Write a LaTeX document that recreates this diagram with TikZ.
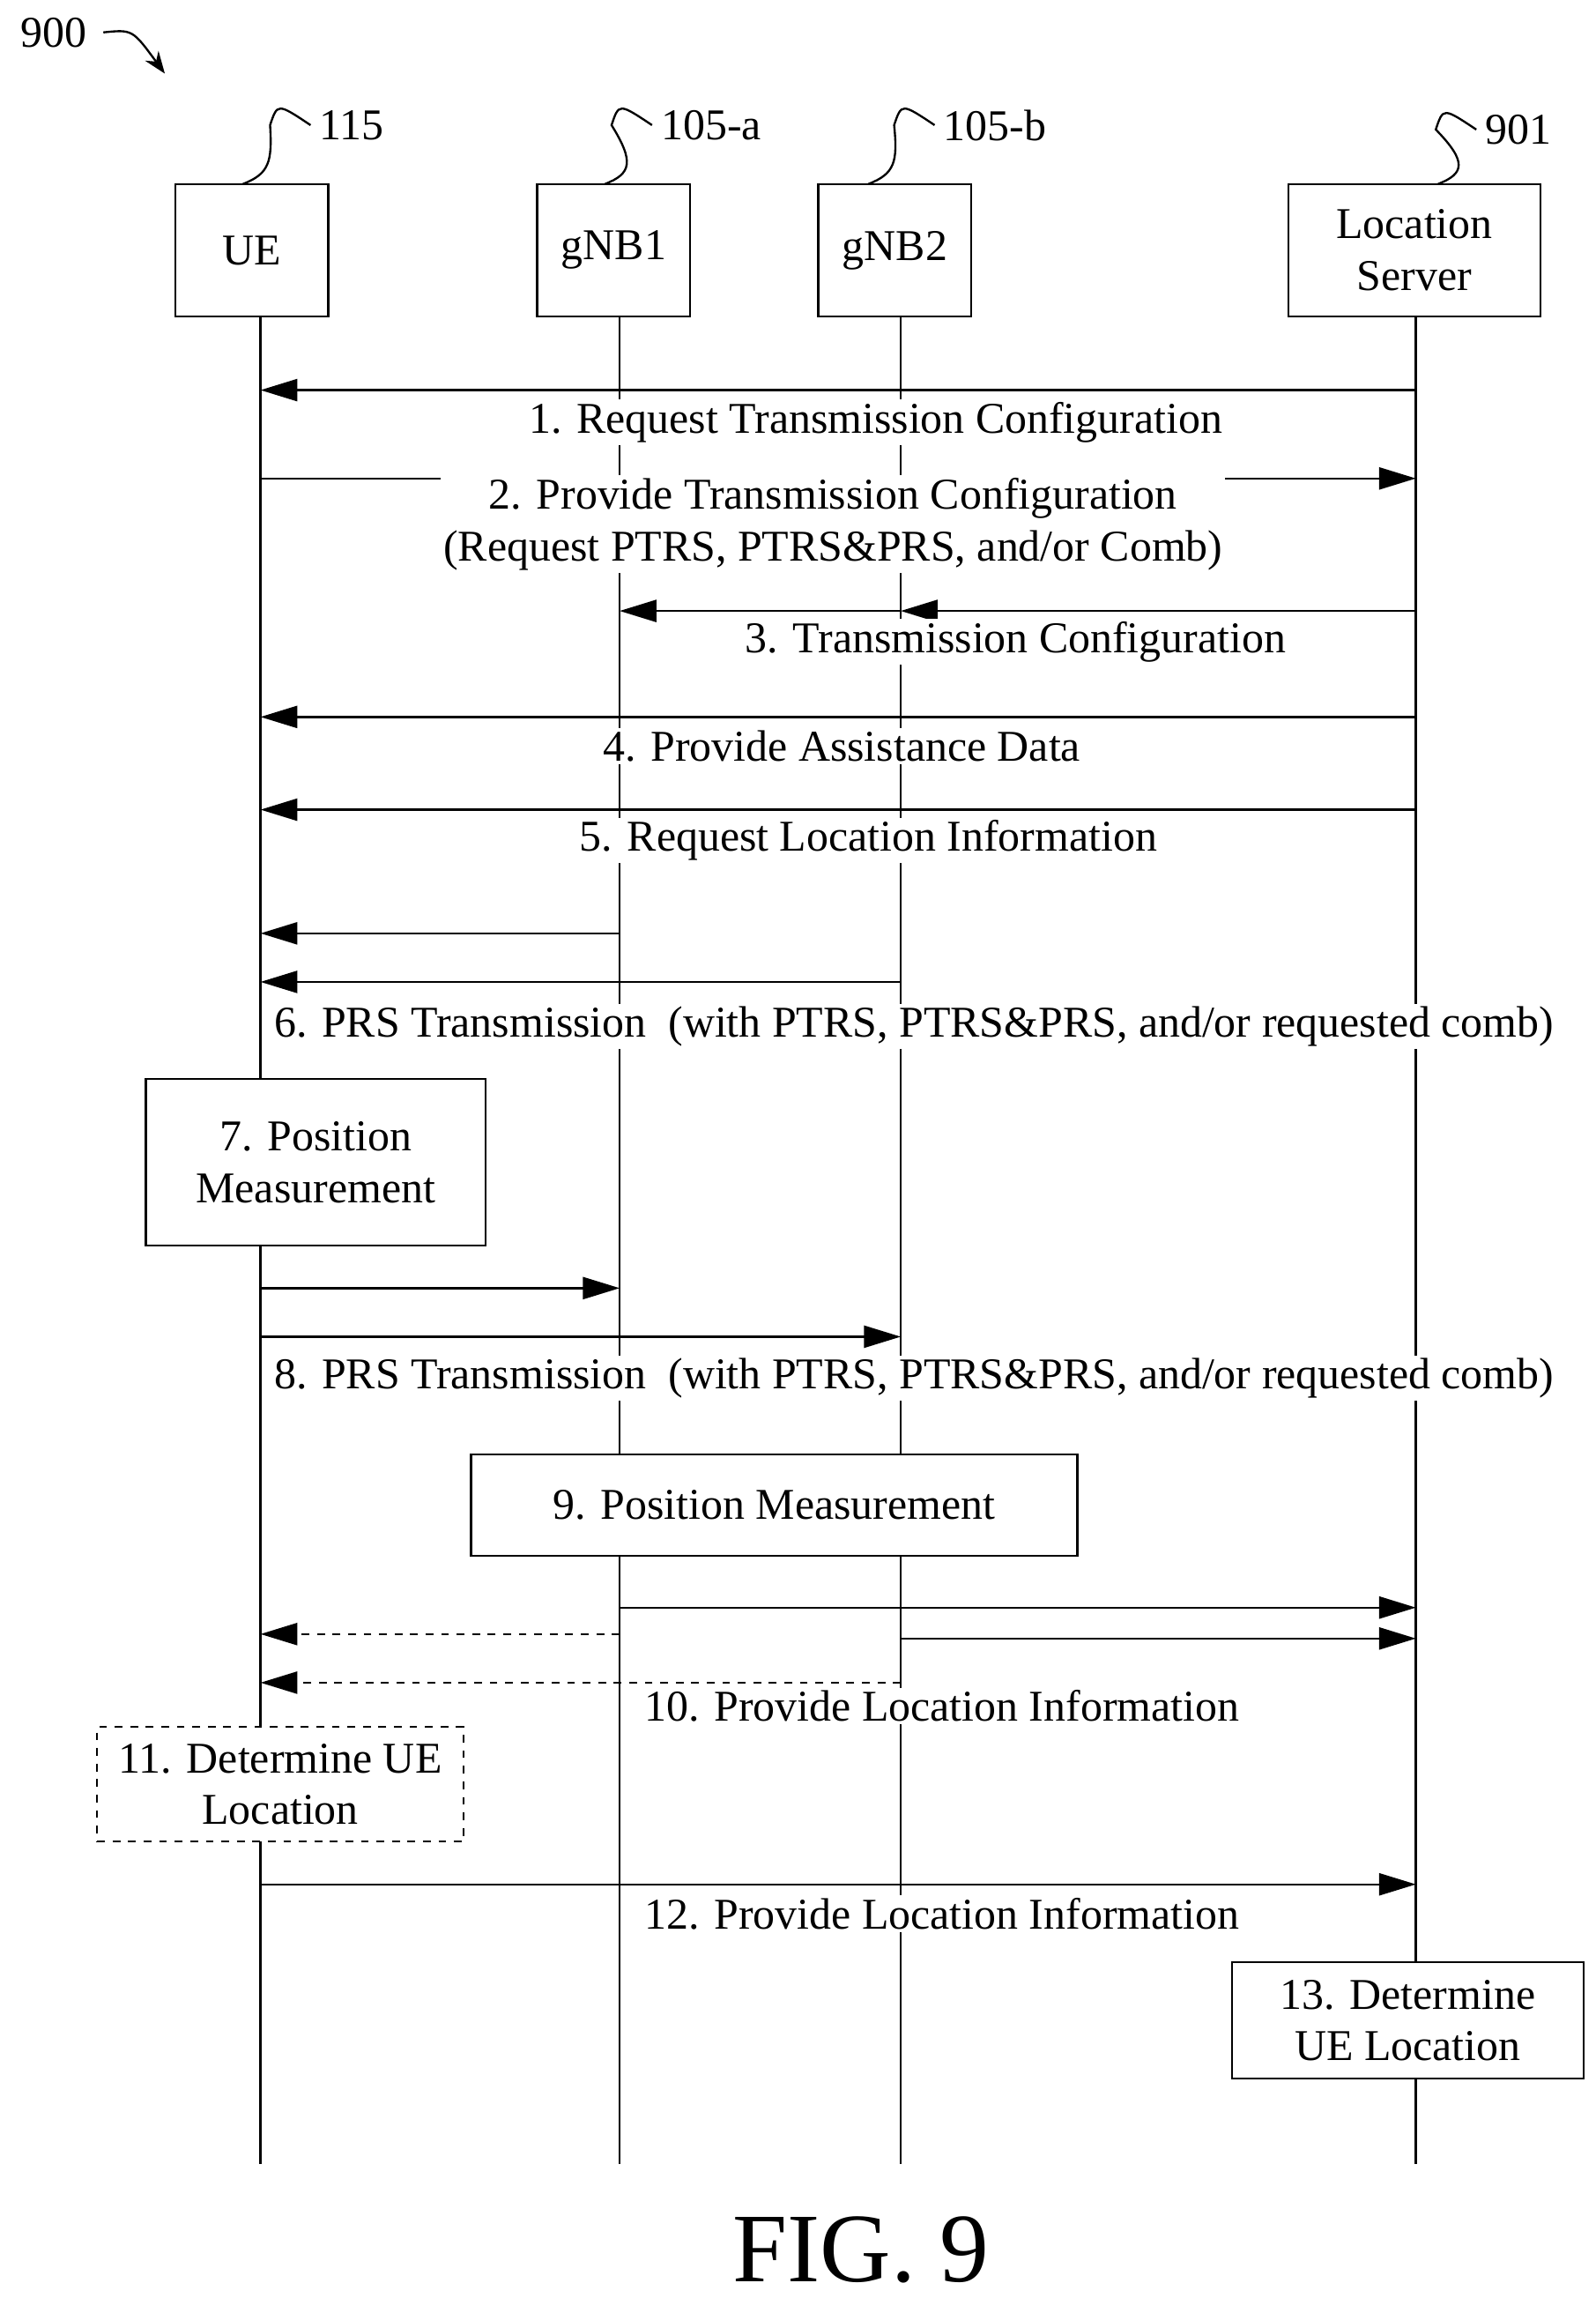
\documentclass[tikz,border=0pt]{standalone}
\usepackage{fontspec}
\setmainfont{Liberation Serif}
\usetikzlibrary{arrows.meta,positioning}
\tikzset{
  box/.style={rectangle, draw=black, thick, align=center, fill=white, inner sep=0},
  msg/.style={thick, -{Triangle[length=0.5cm, width=0.3cm]}},
  lbl/.style={fill=white, inner sep=1pt, align=center},
  life/.style={thick}
}
\begin{document}
\begin{tikzpicture}[x=0.02cm, y=-0.02cm, font=\fontsize{17}{20}\selectfont]
  \useasboundingbox (0,0) rectangle (1084,1561);

  \node[box, minimum width=2.08cm, minimum height=1.8cm] (ue) at (171,170) {UE};
  \node[box, minimum width=2.08cm, minimum height=1.8cm] (gnb1) at (417,170) {gNB1};
  \node[box, minimum width=2.08cm, minimum height=1.8cm] (gnb2) at (608,170) {gNB2};
  \node[box, minimum width=3.42cm, minimum height=1.8cm] (ls) at (961,170) {Location\\Server};

  % lifelines
  \coordinate (uebot) at (177,1470);
  \coordinate (g1bot) at (421,1470);
  \coordinate (g2bot) at (612,1470);
  \coordinate (lsbot) at (962,1470);
  \draw[life] (uebot |- ue.south) -- (uebot);
  \draw[life] (g1bot |- gnb1.south) -- (g1bot);
  \draw[life] (g2bot |- gnb2.south) -- (g2bot);
  \draw[life] (lsbot |- ls.south) -- (lsbot);

  % reference labels
  \node[anchor=west] (n900) at (8,22) {900};
  \draw[thick, -{Stealth[length=0.3cm]}] (n900.east) ++(5,0) .. controls (90,20) .. (112,50);
  \node[anchor=west] (n115) at (211,85) {115};
  \node[anchor=west] (n105a) at (443,85) {105-a};
  \node[anchor=west] (n105b) at (635,85) {105-b};
  \node[anchor=west] (n901) at (1003,88) {901};
  \foreach \b/\n/\x in {ue/n115/165, gnb1/n105a/411, gnb2/n105b/590, ls/n901/977}
    \draw[thick] (\x,125) .. controls (\x+18,118) and (\x+20,110) .. ([xshift=-0.55cm]\n.west) .. controls ([xshift=-0.45cm, yshift=0.3cm]\n.west) .. (\n.west);

  % 1, 2
  \coordinate (m1) at (0,265);
  \draw[msg] (lsbot |- m1) -- (uebot |- m1);
  \node[lbl] (t1) at (595,287) {1. Request Transmission Configuration};
  \coordinate (m2) at (0,325);
  \draw[msg] (uebot |- m2) -- (lsbot |- m2);
  \node[lbl] (t2) at (566,356) {2. Provide Transmission Configuration\\(Request PTRS, PTRS\&PRS, and/or Comb)};

  % 3
  \coordinate (m3) at (0,415);
  \draw[msg] (lsbot |- m3) -- (g2bot |- m3);
  \draw[msg] (g2bot |- m3) -- (g1bot |- m3);
  \node[lbl] (t3) at (690,436) {3. Transmission Configuration};

  % 4, 5
  \coordinate (m4) at (0,487);
  \draw[msg] (lsbot |- m4) -- (uebot |- m4);
  \node[lbl] (t4) at (572,507) {4. Provide Assistance Data};
  \coordinate (m5) at (0,550);
  \draw[msg] (lsbot |- m5) -- (uebot |- m5);
  \node[lbl] (t5) at (590,571) {5. Request Location Information};

  % 6
  \coordinate (m6a) at (0,634);
  \coordinate (m6b) at (0,667);
  \draw[msg] (g1bot |- m6a) -- (uebot |- m6a);
  \draw[msg] (g2bot |- m6b) -- (uebot |- m6b);
  \node[lbl] (t6) at (621,697) {6. PRS Transmission\ \ (with PTRS, PTRS\&PRS, and/or requested comb)};

  % 7
  \node[box, minimum width=4.62cm, minimum height=2.26cm] (pos7) at (214.5,789.5) {7. Position\\Measurement};

  % 8
  \coordinate (m8a) at (0,875);
  \coordinate (m8b) at (0,908);
  \draw[msg] (uebot |- m8a) -- (g1bot |- m8a);
  \draw[msg] (uebot |- m8b) -- (g2bot |- m8b);
  \node[lbl] (t8) at (621,936) {8. PRS Transmission\ \ (with PTRS, PTRS\&PRS, and/or requested comb)};

  % 9
  \node[box, minimum width=8.24cm, minimum height=1.38cm] (pos9) at (526,1022.5) {9. Position Measurement};

  % 10
  \coordinate (m10a) at (0,1092);
  \coordinate (m10b) at (0,1113);
  \coordinate (m10c) at (0,1110);
  \coordinate (m10d) at (0,1143);
  \draw[msg] (g1bot |- m10a) -- (lsbot |- m10a);
  \draw[msg] (g2bot |- m10b) -- (lsbot |- m10b);
  \draw[msg, dashed] (g1bot |- m10c) -- (uebot |- m10c);
  \draw[msg, dashed] (g2bot |- m10d) -- (uebot |- m10d);
  \node[lbl] (t10) at (640,1159) {10. Provide Location Information};

  % 11
  \node[box, dashed, minimum width=4.98cm, minimum height=1.56cm] (det11) at (190.5,1212) {11. Determine UE\\Location};

  % 12
  \coordinate (m12) at (0,1280);
  \draw[msg] (uebot |- m12) -- (lsbot |- m12);
  \node[lbl] (t12) at (640,1300) {12. Provide Location Information};

  % 13
  \node[box, minimum width=4.78cm, minimum height=1.58cm] (det13) at (956.5,1372.5) {13. Determine\\UE Location};

  \node (fig) at (585,1528) {\fontsize{38}{46}\selectfont FIG. 9};
\end{tikzpicture}
\end{document}
